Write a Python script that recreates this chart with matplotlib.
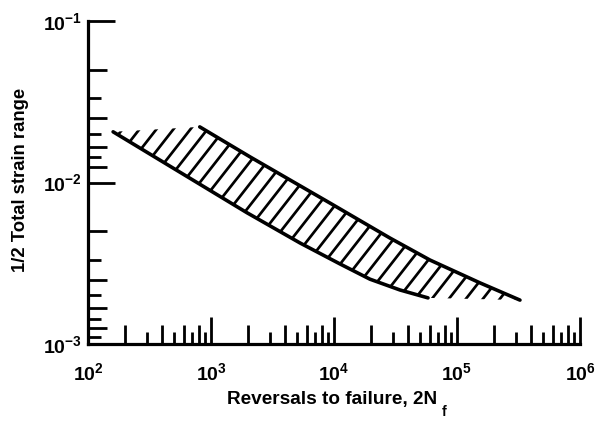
import numpy as np
import matplotlib
matplotlib.use("Agg")
import matplotlib.pyplot as plt
from matplotlib.ticker import NullFormatter
from matplotlib.patches import Polygon
from matplotlib.collections import LineCollection

# ---------------- data ----------------
lower_x = [160, 1960, 5300, 11200, 19600, 34400, 58100]
lower_y = [0.0206, 0.0065, 0.00422, 0.00313, 0.00252, 0.00216, 0.00193]
upper_x = [810, 2080, 9270, 28500, 60300, 153800, 325000]
upper_y = [0.0221, 0.0144, 0.00746, 0.00453, 0.00331, 0.00239, 0.00187]

x_major = [1e2, 1e3, 1e4, 1e5, 1e6]
x_major_labels = [r"$\mathregular{10^{2}}$", r"$\mathregular{10^{3}}$",
                  r"$\mathregular{10^{4}}$", r"$\mathregular{10^{5}}$",
                  r"$\mathregular{10^{6}}$"]
y_major = [1e-3, 1e-2, 1e-1]
y_major_labels = [r"$\mathregular{10^{-3}}$", r"$\mathregular{10^{-2}}$",
                  r"$\mathregular{10^{-1}}$"]
x_minor_mult = [2, 3, 4, 5, 6, 7, 8, 9]
y_minor_div_lower = [2, 3, 4, 5, 6, 7, 8, 9]   # ticks at 1e-2 / k
y_minor_div_upper = [2, 3, 4, 5, 6, 7, 8]      # ticks at 1e-1 / k

xlabel = "Reversals to failure, 2N"
xlabel_sub = "f"
ylabel = "1/2 Total strain range"

# ---------------- style ----------------
DPI = 100
W, H = 598, 423
plt.rcParams["font.family"] = ["Liberation Sans", "DejaVu Sans"]
plt.rcParams["font.weight"] = "bold"
plt.rcParams["axes.labelweight"] = "bold"
plt.rcParams["mathtext.default"] = "regular"
plt.rcParams["mathtext.fontset"] = "custom"
plt.rcParams["mathtext.rm"] = "Liberation Sans:bold"
plt.rcParams["mathtext.it"] = "Liberation Sans:bold"
plt.rcParams["mathtext.bf"] = "Liberation Sans:bold"


def px(v):
    return v * 72.0 / DPI


HATCH_ANGLE = 52.0      # degrees, in screen space
HATCH_STEP = 17.0       # horizontal spacing in pixels
HATCH_LW = 2.7          # pixels

fig = plt.figure(figsize=(W / DPI, H / DPI), dpi=DPI)
ax = fig.add_axes([88 / W, 1 - 344 / H, 492 / W, 323 / H])
ax.set_xscale("log")
ax.set_yscale("log")
ax.set_xlim(1e2, 1e6)
ax.set_ylim(1e-3, 1e-1)

# hatched band: region between the two boundary curves
poly_x = list(lower_x) + list(upper_x[::-1])
poly_y = list(lower_y) + list(upper_y[::-1])
band = Polygon(np.column_stack([poly_x, poly_y]), closed=True,
               facecolor="none", edgecolor="none", transform=ax.transData)
ax.add_patch(band)

bb = ax.get_window_extent()
aw, ah = bb.width, bb.height
run = ah / np.tan(np.deg2rad(HATCH_ANGLE))
starts = np.arange(-run, aw + HATCH_STEP, HATCH_STEP)
segs = [[(s / aw, 0.0), ((s + run) / aw, 1.0)] for s in starts]
hatch = LineCollection(segs, transform=ax.transAxes, colors="black",
                       linewidths=px(HATCH_LW), capstyle="butt")
hatch.set_clip_path(band)
ax.add_collection(hatch, autolim=False)

ax.plot(lower_x, lower_y, color="black", lw=px(3.6), solid_capstyle="round",
        solid_joinstyle="round")
ax.plot(upper_x, upper_y, color="black", lw=px(3.6), solid_capstyle="round",
        solid_joinstyle="round")

# spines
for s in ["top", "right"]:
    ax.spines[s].set_visible(False)
for s in ["left", "bottom"]:
    ax.spines[s].set_linewidth(px(3.2))

# ticks
ax.set_xticks(x_major, labels=x_major_labels)
ax.set_yticks(y_major, labels=y_major_labels)

x_minor = sorted([(k * 10.0 ** n, k) for n in range(2, 6) for k in x_minor_mult])
y_minor = sorted([(1e-2 / k, k) for k in y_minor_div_lower] +
                 [(1e-1 / k, k) for k in y_minor_div_upper])
ax.set_xticks([v for v, _ in x_minor], minor=True)
ax.set_yticks([v for v, _ in y_minor], minor=True)
ax.xaxis.set_minor_formatter(NullFormatter())
ax.yaxis.set_minor_formatter(NullFormatter())

ax.tick_params(which="both", direction="in", width=px(2.8), color="black")
ax.tick_params(which="major", length=px(27), labelsize=px(19.5))
ax.tick_params(axis="x", which="major", pad=px(18))
ax.tick_params(axis="y", which="major", pad=px(6))

even_len, odd_len = px(19), px(12.5)
for tick, (_, k) in zip(ax.xaxis.get_minor_ticks(len(x_minor)), x_minor):
    tick.tick1line.set_markersize(even_len if k % 2 == 0 else odd_len)
for tick, (_, k) in zip(ax.yaxis.get_minor_ticks(len(y_minor)), y_minor):
    tick.tick1line.set_markersize(even_len if k % 2 == 0 else odd_len)

# labels
ax.set_xlabel(xlabel, fontsize=px(19))
ax.xaxis.set_label_coords(0.496, -0.146)
ax.annotate(xlabel_sub, xy=(1, 0), xycoords=ax.xaxis.label,
            xytext=(px(5), px(3)), textcoords="offset points",
            ha="left", va="top", fontsize=px(14), fontweight="bold")
ax.set_ylabel(ylabel, fontsize=px(18.5))
ax.yaxis.set_label_coords(-0.12, 0.508)

fig.savefig("out.png", dpi=DPI)
